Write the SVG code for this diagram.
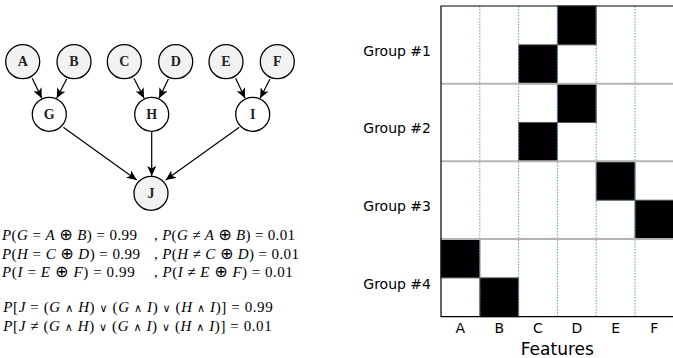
<svg xmlns="http://www.w3.org/2000/svg" width="673" height="358" viewBox="0 0 673 358">
  <style>
    .node { stroke: #000; stroke-width: 1.3; }
    .obs { fill: #f2f2f2; }
    .hid { fill: #ffffff; }
    .lbl { font-family: "Liberation Serif", "Times New Roman", serif; font-weight: bold; font-size: 14px; fill: #222; text-anchor: middle; dominant-baseline: central; }
    .edge { stroke: #000; stroke-width: 1.2; fill: none; marker-end: url(#arrow); }
    .math { font-family: "Liberation Serif", "Times New Roman", serif; font-size: 15px; fill: #000; }
    .v { font-style: italic; }
    .op { font-family: "DejaVu Sans", sans-serif; font-size: 16px; }
    .lg { font-family: "DejaVu Serif", serif; font-size: 11px; }
    .axis { font-family: "DejaVu Sans", sans-serif; font-size: 14px; fill: #000; }
    .cell { fill: #000; stroke: #555; stroke-width: 1; }
    .vgrid { stroke: #5b9bd5; stroke-width: 1; stroke-dasharray: 1.5 1.5; }
    .hgrid { stroke: #b4b4b4; stroke-width: 2; }
    .frame { stroke: #000; stroke-width: 1.2; fill: none; }
  </style>
  <defs>
    <marker id="arrow" markerUnits="userSpaceOnUse" markerWidth="10" markerHeight="9" refX="10" refY="4.5" orient="auto">
      <path d="M0,0 L10,4.5 L0,9 L2.5,4.5 z" fill="#000"/>
    </marker>
  </defs>

  <!-- Bayesian network: connectors -->
  <g id="connectors">
    <line class="edge" x1="32.3" y1="78.3" x2="41.7" y2="98.3"/>
    <line class="edge" x1="66.7" y1="79" x2="56.7" y2="98.3"/>
    <line class="edge" x1="133.9" y1="78.3" x2="144.1" y2="98.3"/>
    <line class="edge" x1="168.4" y1="79" x2="159.1" y2="98.3"/>
    <line class="edge" x1="235.6" y1="78.3" x2="245.1" y2="98.3"/>
    <line class="edge" x1="270" y1="79" x2="260.1" y2="98.3"/>
    <line class="edge" x1="63.3" y1="127.3" x2="136.7" y2="180"/>
    <line class="edge" x1="151.7" y1="131.3" x2="151.7" y2="176"/>
    <line class="edge" x1="239.3" y1="127.3" x2="165.7" y2="180"/>
  </g>

  <!-- Bayesian network: nodes -->
  <g id="node-A"><circle class="node obs" cx="22.7" cy="61.7" r="17"/><text class="lbl" x="22.7" y="61.7">A</text></g>
  <g id="node-B"><circle class="node obs" cx="74" cy="61.7" r="17"/><text class="lbl" x="74" y="61.7">B</text></g>
  <g id="node-C"><circle class="node obs" cx="124.3" cy="61.7" r="17"/><text class="lbl" x="124.3" y="61.7">C</text></g>
  <g id="node-D"><circle class="node obs" cx="175.7" cy="61.7" r="17"/><text class="lbl" x="175.7" y="61.7">D</text></g>
  <g id="node-E"><circle class="node obs" cx="226" cy="61.7" r="17"/><text class="lbl" x="226" y="61.7">E</text></g>
  <g id="node-F"><circle class="node obs" cx="277.3" cy="61.7" r="17"/><text class="lbl" x="277.3" y="61.7">F</text></g>
  <g id="node-G"><circle class="node hid" cx="49.3" cy="114.3" r="17"/><text class="lbl" x="49.3" y="114.3">G</text></g>
  <g id="node-H"><circle class="node hid" cx="151.7" cy="114.3" r="17"/><text class="lbl" x="151.7" y="114.3">H</text></g>
  <g id="node-I"><circle class="node hid" cx="252.7" cy="114.3" r="17"/><text class="lbl" x="252.7" y="114.3">I</text></g>
  <g id="node-J"><circle class="node obs" cx="151" cy="193.3" r="17"/><text class="lbl" x="151" y="193.3">J</text></g>

  <!-- Conditional probabilities -->
  <g id="equations">
    <text class="math" x="2" y="240" textLength="135" lengthAdjust="spacing"><tspan class="v">P</tspan>(<tspan class="v">G</tspan> = <tspan class="v">A</tspan> <tspan class="op">⊕</tspan> <tspan class="v">B</tspan>) = 0.99</text>
    <text class="math" x="154" y="240" textLength="141" lengthAdjust="spacing">, <tspan class="v">P</tspan>(<tspan class="v">G</tspan> ≠ <tspan class="v">A</tspan> <tspan class="op">⊕</tspan> <tspan class="v">B</tspan>) = 0.01</text>
    <text class="math" x="2" y="258.5" textLength="138" lengthAdjust="spacing"><tspan class="v">P</tspan>(<tspan class="v">H</tspan> = <tspan class="v">C</tspan> <tspan class="op">⊕</tspan> <tspan class="v">D</tspan>) = 0.99</text>
    <text class="math" x="154" y="258.5" textLength="145" lengthAdjust="spacing">, <tspan class="v">P</tspan>(<tspan class="v">H</tspan> ≠ <tspan class="v">C</tspan> <tspan class="op">⊕</tspan> <tspan class="v">D</tspan>) = 0.01</text>
    <text class="math" x="2" y="277" textLength="132.7" lengthAdjust="spacing"><tspan class="v">P</tspan>(<tspan class="v">I</tspan> = <tspan class="v">E</tspan> <tspan class="op">⊕</tspan> <tspan class="v">F</tspan>) = 0.99</text>
    <text class="math" x="154" y="277" textLength="138.7" lengthAdjust="spacing">, <tspan class="v">P</tspan>(<tspan class="v">I</tspan> ≠ <tspan class="v">E</tspan> <tspan class="op">⊕</tspan> <tspan class="v">F</tspan>) = 0.01</text>
    <text class="math" x="3.3" y="312" textLength="269.4" lengthAdjust="spacing"><tspan class="v">P</tspan>[<tspan class="v">J</tspan> = (<tspan class="v">G</tspan> <tspan class="lg">∧</tspan> <tspan class="v">H</tspan>) <tspan class="lg">∨</tspan> (<tspan class="v">G</tspan> <tspan class="lg">∧</tspan> <tspan class="v">I</tspan>) <tspan class="lg">∨</tspan> (<tspan class="v">H</tspan> <tspan class="lg">∧</tspan> <tspan class="v">I</tspan>)] = 0.99</text>
    <text class="math" x="3.3" y="330.5" textLength="268.4" lengthAdjust="spacing"><tspan class="v">P</tspan>[<tspan class="v">J</tspan> ≠ (<tspan class="v">G</tspan> <tspan class="lg">∧</tspan> <tspan class="v">H</tspan>) <tspan class="lg">∨</tspan> (<tspan class="v">G</tspan> <tspan class="lg">∧</tspan> <tspan class="v">I</tspan>) <tspan class="lg">∨</tspan> (<tspan class="v">H</tspan> <tspan class="lg">∧</tspan> <tspan class="v">I</tspan>)] = 0.01</text>
  </g>

  <!-- Feature-group matrix -->
  <g id="matrix">
    <rect x="441" y="6" width="233" height="310.7" fill="#fff"/>
    <!-- active cells (col width 38.8, row height 38.84) -->
    <rect class="cell" x="557.4" y="6" width="38.8" height="38.84"/>
    <rect class="cell" x="518.6" y="44.84" width="38.8" height="38.84"/>
    <rect class="cell" x="557.4" y="83.68" width="38.8" height="38.84"/>
    <rect class="cell" x="518.6" y="122.52" width="38.8" height="38.84"/>
    <rect class="cell" x="596.2" y="161.36" width="38.8" height="38.84"/>
    <rect class="cell" x="635" y="200.2" width="38.8" height="38.84"/>
    <rect class="cell" x="441" y="239.04" width="38.8" height="38.84"/>
    <rect class="cell" x="479.8" y="277.88" width="38.8" height="38.84"/>
    <!-- column separators -->
    <line class="vgrid" x1="479.8" y1="6" x2="479.8" y2="316.7"/>
    <line class="vgrid" x1="518.6" y1="6" x2="518.6" y2="316.7"/>
    <line class="vgrid" x1="557.4" y1="6" x2="557.4" y2="316.7"/>
    <line class="vgrid" x1="596.2" y1="6" x2="596.2" y2="316.7"/>
    <line class="vgrid" x1="635" y1="6" x2="635" y2="316.7"/>
    <!-- group separators -->
    <line class="hgrid" x1="441" y1="83.68" x2="674" y2="83.68"/>
    <line class="hgrid" x1="441" y1="161.36" x2="674" y2="161.36"/>
    <line class="hgrid" x1="441" y1="239.04" x2="674" y2="239.04"/>
    <!-- frame -->
    <polyline class="frame" points="674,6 441,6 441,316.7 674,316.7"/>
  </g>

  <!-- Axis labels -->
  <g id="axis-labels" class="axis">
    <text x="431" y="55.5" text-anchor="end">Group #1</text>
    <text x="431" y="133" text-anchor="end">Group #2</text>
    <text x="431" y="211" text-anchor="end">Group #3</text>
    <text x="431" y="288.5" text-anchor="end">Group #4</text>
    <text x="460.4" y="333" text-anchor="middle">A</text>
    <text x="499.2" y="333" text-anchor="middle">B</text>
    <text x="538" y="333" text-anchor="middle">C</text>
    <text x="576.8" y="333" text-anchor="middle">D</text>
    <text x="615.6" y="333" text-anchor="middle">E</text>
    <text x="654.4" y="333" text-anchor="middle">F</text>
    <text x="557.3" y="355" text-anchor="middle" font-size="17">Features</text>
  </g>
</svg>
